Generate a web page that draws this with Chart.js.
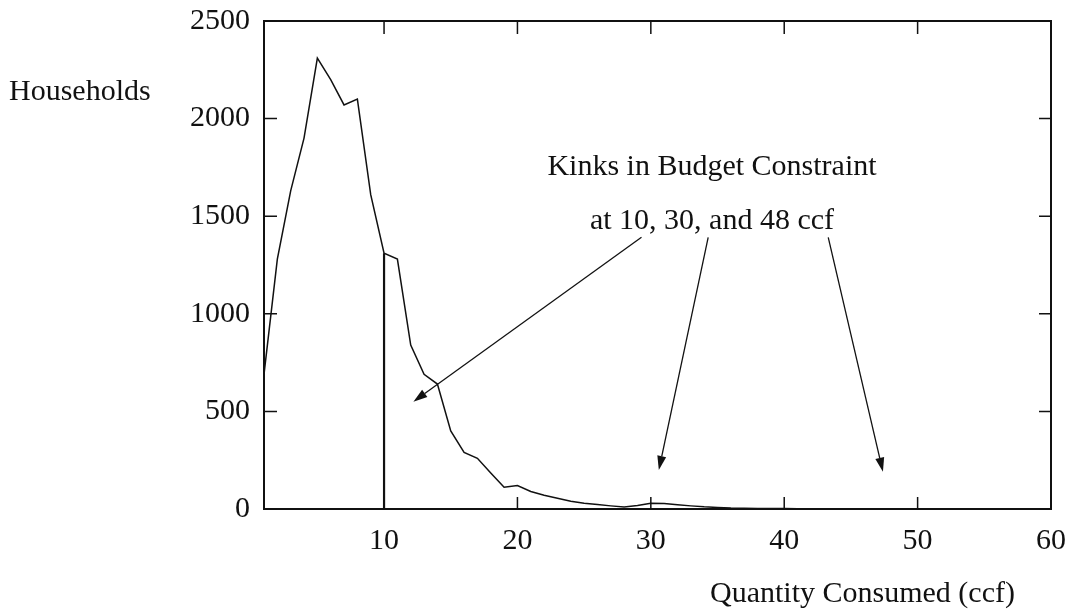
<!DOCTYPE html>
<html>
<head>
<meta charset="utf-8">
<title>Households by quantity consumed</title>
<script src="https://cdn.jsdelivr.net/npm/chart.js@4.4.0/dist/chart.umd.min.js"></script>
<style>
  html, body { margin: 0; padding: 0; background: #fff; }
</style>
</head>
<body>
<canvas id="chart" width="1071" height="615"></canvas>
<script>
// Data
const quantity = [
  1, 2, 3, 4, 5, 6, 7, 8, 9, 10,
  11, 12, 13, 14, 15, 16, 17, 18, 19, 20,
  21, 22, 23, 24, 25, 26, 27, 28, 29, 30,
  31, 32, 33, 34, 35, 36, 37, 38, 39, 40,
  41, 42, 43, 44, 45, 46, 47, 48, 49, 50,
  51, 52, 53, 54, 55, 56, 57, 58, 59, 60
];
const households = [
  690, 1280, 1630, 1900, 2310, 2200, 2070, 2100, 1610, 1310,
  1280, 840, 690, 640, 400, 290, 260, 185, 112, 120,
  90, 70, 55, 40, 30, 23, 16, 10, 18, 30,
  28, 22, 16, 11, 8, 5, 4, 3, 2, 2,
  1, 1, 1, 0, 0, 0, 0, 0, 0, 0,
  0, 0, 0, 0, 0, 0, 0, 0, 0, 0
];

// vertical line at the first kink
const kinkX = [10, 10];
const kinkY = [0, 1310];

const xTickValues = [10, 20, 30, 40, 50, 60];
const yTickValues = [0, 500, 1000, 1500, 2000, 2500];

const yTitle = "Households";
const xTitle = "Quantity Consumed (ccf)";
const noteLines = ["Kinks in Budget Constraint", "at 10, 30, and 48 ccf"];

// annotation arrows, in data units
const arrowFromX = [29.3, 34.3, 43.3];
const arrowFromY = [1392, 1392, 1392];
const arrowToX = [12.2, 30.6, 47.4];
const arrowToY = [550, 200, 191];

const FONT = "'Liberation Serif', 'Times New Roman', serif";
const INK = "#111";

// keep the plot box where the picture has it
const noOverflow = function (scale) {
  scale.paddingTop = 0;
  scale.paddingBottom = 0;
  scale.paddingLeft = 0;
  scale.paddingRight = 0;
};

// Frame, inward ticks, texts and arrows
const decorations = {
  id: "decorations",
  afterDatasetsDraw: function (chart) {
    const ctx = chart.ctx;
    const a = chart.chartArea;
    const x = chart.scales.x;
    const y = chart.scales.y;
    ctx.save();
    ctx.strokeStyle = INK;
    ctx.fillStyle = INK;

    // box
    ctx.lineWidth = 2;
    ctx.strokeRect(a.left, a.top, a.right - a.left, a.bottom - a.top);

    // inward tick marks on all four sides
    ctx.lineWidth = 1.5;
    ctx.beginPath();
    xTickValues.forEach(function (v) {
      const px = x.getPixelForValue(v);
      ctx.moveTo(px, a.bottom);
      ctx.lineTo(px, a.bottom - 12);
      ctx.moveTo(px, a.top);
      ctx.lineTo(px, a.top + 13);
    });
    yTickValues.forEach(function (v) {
      const py = y.getPixelForValue(v);
      ctx.moveTo(a.left, py);
      ctx.lineTo(a.left + 13, py);
      ctx.moveTo(a.right, py);
      ctx.lineTo(a.right - 12, py);
    });
    ctx.stroke();

    // titles
    ctx.font = "30px " + FONT;
    ctx.textBaseline = "alphabetic";
    ctx.textAlign = "left";
    ctx.fillText(yTitle, 9, 100);
    ctx.fillText(xTitle, 710, 602);

    // note
    ctx.textAlign = "center";
    ctx.fillText(noteLines[0], 712, 175);
    ctx.fillText(noteLines[1], 712, 229);

    // arrows
    ctx.lineWidth = 1.3;
    arrowFromX.forEach(function (fx, i) {
      const x0 = x.getPixelForValue(fx);
      const y0 = y.getPixelForValue(arrowFromY[i]);
      const x1 = x.getPixelForValue(arrowToX[i]);
      const y1 = y.getPixelForValue(arrowToY[i]);
      const ang = Math.atan2(y1 - y0, x1 - x0);
      const len = 14;
      const half = 4.5;
      const bx = x1 - len * Math.cos(ang);
      const by = y1 - len * Math.sin(ang);
      ctx.beginPath();
      ctx.moveTo(x0, y0);
      ctx.lineTo(bx, by);
      ctx.stroke();
      ctx.beginPath();
      ctx.moveTo(x1, y1);
      ctx.lineTo(bx + half * Math.sin(ang), by - half * Math.cos(ang));
      ctx.lineTo(bx - half * Math.sin(ang), by + half * Math.cos(ang));
      ctx.closePath();
      ctx.fill();
    });

    ctx.restore();
  }
};

const ctx = document.getElementById("chart").getContext("2d");

new Chart(ctx, {
  type: "line",
  data: {
    datasets: [
      {
        label: "Households",
        data: quantity.map(function (q, i) { return { x: q, y: households[i] }; }),
        borderColor: INK,
        borderWidth: 1.5,
        pointRadius: 0,
        tension: 0,
        fill: false
      },
      {
        label: "Kink",
        data: kinkX.map(function (q, i) { return { x: q, y: kinkY[i] }; }),
        borderColor: INK,
        borderWidth: 2.2,
        pointRadius: 0,
        fill: false
      }
    ]
  },
  options: {
    responsive: false,
    animation: false,
    devicePixelRatio: 1,
    layout: {
      padding: { left: 190, right: 20, top: 21, bottom: 56 }
    },
    plugins: {
      legend: { display: false },
      tooltip: { enabled: false }
    },
    scales: {
      x: {
        type: "linear",
        min: 1,
        max: 60,
        afterBuildTicks: function (scale) {
          scale.ticks = xTickValues.map(function (v) { return { value: v }; });
        },
        afterFit: function (scale) {
          scale.height = 50;
          noOverflow(scale);
        },
        grid: { display: false, drawTicks: false },
        border: { display: false },
        ticks: {
          padding: 14,
          maxRotation: 0,
          autoSkip: false,
          color: INK,
          font: { family: FONT, size: 30 },
          callback: function (value) { return String(value); }
        }
      },
      y: {
        type: "linear",
        min: 0,
        max: 2500,
        afterBuildTicks: function (scale) {
          scale.ticks = yTickValues.map(function (v) { return { value: v }; });
        },
        afterFit: function (scale) {
          scale.width = 74;
          noOverflow(scale);
        },
        grid: { display: false, drawTicks: false },
        border: { display: false },
        ticks: {
          padding: 14,
          color: INK,
          font: { family: FONT, size: 30 },
          callback: function (value) { return String(value); }
        }
      }
    }
  },
  plugins: [decorations]
});
</script>
</body>
</html>
